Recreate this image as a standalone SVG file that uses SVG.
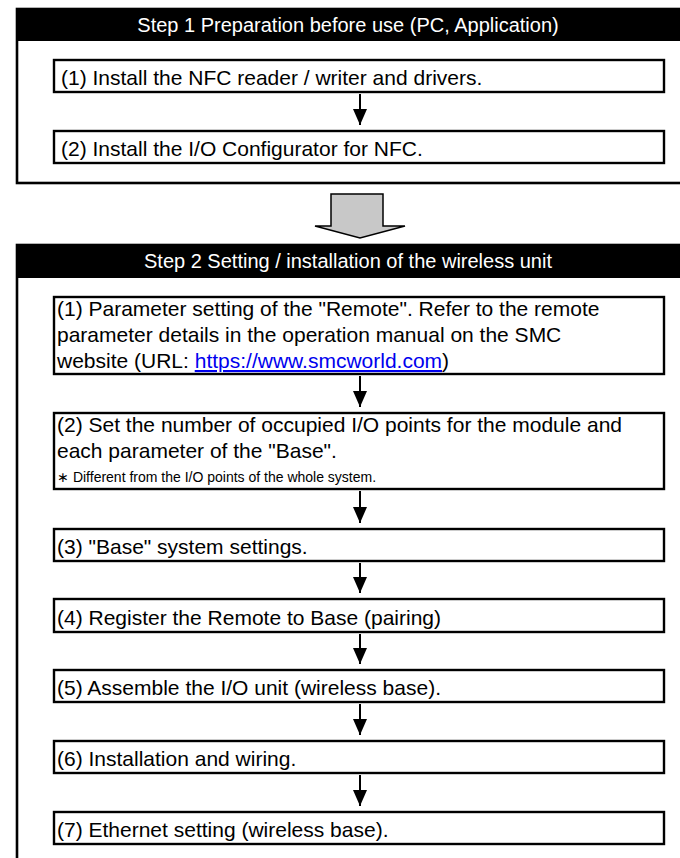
<svg xmlns="http://www.w3.org/2000/svg" width="680" height="858" viewBox="0 0 680 858">
  <style>
    text { font-family: "Liberation Sans", Arial, sans-serif; fill: #000; }
    .hdr { fill: #000; }
    .frame { fill: none; stroke: #000; stroke-width: 2.6; }
    .box { fill: #fff; stroke: #000; stroke-width: 2.4; }
    .title { font-size: 20px; fill: #fff; text-anchor: middle; }
    .t { font-size: 21px; }
    .note { font-size: 14px; }
    .link { fill: #0000ee; text-decoration: underline; }
    .conn { stroke: #000; stroke-width: 2; fill: none; marker-end: url(#ah); }
    .big { fill: #c8c8c8; stroke: #000; stroke-width: 1.5; }
  </style>
  <defs>
    <marker id="ah" markerUnits="userSpaceOnUse" markerWidth="16" markerHeight="14" refX="16" refY="7" orient="auto">
      <path d="M0,0 L16,7 L0,14 z" fill="#000"/>
    </marker>
  </defs>
  <rect width="680" height="858" fill="#fff"/>

  <g id="step1">
    <rect class="frame" x="17" y="9" width="700" height="174"/>
    <rect class="hdr" x="17" y="9" width="680" height="32"/>
    <text class="title" x="348" y="32">Step 1 Preparation before use (PC, Application)</text>
  </g>
  <g id="s1-1">
    <rect class="box" x="54" y="60" width="610" height="32"/>
    <text class="t" x="61" y="85">(1) Install the NFC reader / writer and drivers.</text>
  </g>
  <g id="s1-2">
    <rect class="box" x="54" y="131" width="610" height="32"/>
    <text class="t" x="61" y="156">(2) Install the I/O Configurator for NFC.</text>
  </g>

  <g id="step2">
    <rect class="frame" x="17" y="245" width="700" height="700"/>
    <rect class="hdr" x="17" y="245" width="680" height="33"/>
    <text class="title" x="348" y="268">Step 2 Setting / installation of the wireless unit</text>
  </g>
  <g id="s2-1">
    <rect class="box" x="54" y="297" width="610" height="77"/>
    <text class="t" x="57" y="316">(1) Parameter setting of the "Remote". Refer to the remote</text>
    <text class="t" x="57" y="342">parameter details in the operation manual on the SMC</text>
    <text class="t" x="57" y="368">website (URL: <tspan class="link">https://www.smcworld.com</tspan>)</text>
  </g>
  <g id="s2-2">
    <rect class="box" x="54" y="413" width="610" height="76"/>
    <text class="t" x="57" y="432">(2) Set the number of occupied I/O points for the module and</text>
    <text class="t" x="57" y="458">each parameter of the "Base".</text>
    <text class="note" x="57" y="482">∗ Different from the I/O points of the whole system.</text>
  </g>
  <g id="s2-3">
    <rect class="box" x="54" y="529" width="610" height="32"/>
    <text class="t" x="57" y="554">(3) "Base" system settings.</text>
  </g>
  <g id="s2-4">
    <rect class="box" x="54" y="599" width="610" height="33"/>
    <text class="t" x="57" y="625">(4) Register the Remote to Base (pairing)</text>
  </g>
  <g id="s2-5">
    <rect class="box" x="54" y="670" width="610" height="32"/>
    <text class="t" x="57" y="695">(5) Assemble the I/O unit (wireless base).</text>
  </g>
  <g id="s2-6">
    <rect class="box" x="54" y="741" width="610" height="32"/>
    <text class="t" x="57" y="766">(6) Installation and wiring.</text>
  </g>
  <g id="s2-7">
    <rect class="box" x="54" y="812" width="610" height="32"/>
    <text class="t" x="57" y="837">(7) Ethernet setting (wireless base).</text>
  </g>

  <g id="connectors">
    <line class="conn" x1="360" y1="94" x2="360" y2="125"/>
    <path class="big" d="M331,194 L383,194 L383,226 L405,226 L360,238 L315,226 L331,226 Z"/>
    <line class="conn" x1="360" y1="376" x2="360" y2="407"/>
    <line class="conn" x1="360" y1="491" x2="360" y2="523"/>
    <line class="conn" x1="360" y1="563" x2="360" y2="593"/>
    <line class="conn" x1="360" y1="634" x2="360" y2="664"/>
    <line class="conn" x1="360" y1="704" x2="360" y2="735"/>
    <line class="conn" x1="360" y1="775" x2="360" y2="806"/>
  </g>
</svg>
